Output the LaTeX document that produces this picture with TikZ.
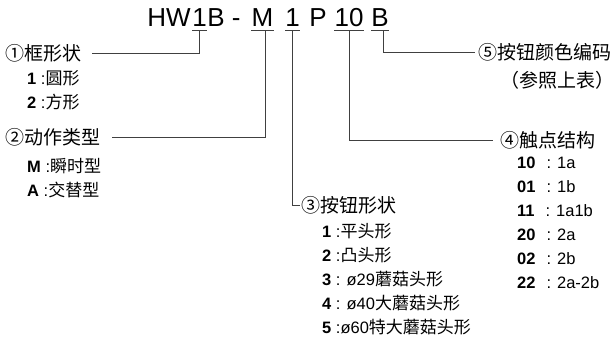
\documentclass[tikz,border=0pt]{standalone}
\usepackage{fontspec}
\setmainfont{Liberation Sans}
\newfontfamily\cjk{Noto Sans CJK SC}
\newcommand{\zh}[1]{{\cjk\fontsize{17}{17}\selectfont #1}}
\newcommand{\opt}[2]{\textbf{#1} :#2}

\begin{document}
\begin{tikzpicture}[x=1pt,y=-1pt,
    title/.style={font=\fontsize{26}{26}\selectfont, inner xsep=0pt, inner ysep=3pt, anchor=base},
    head/.style={font=\cjk\fontsize{19}{19}\selectfont, inner sep=0pt, anchor=west},
    item/.style={font=\fontsize{16.5}{16.5}\selectfont, inner sep=0pt, anchor=west},
    link/.style={draw=black!75, line width=0.8pt}]
  \useasboundingbox (0,0) rectangle (616,340);
  % model code
  \node[title] (hw)  at (169,27) {HW};
  \node[title] (t1)  at (199.5,27) {1};
  \node[title] (tb)  at (224,27) {B -};
  \node[title] (tm)  at (262.5,27) {M};
  \node[title] (t1b) at (292.5,27) {1};
  \node[title] (tp)  at (318,27) {P};
  \node[title] (t10) at (349,27) {10};
  \node[title] (tB)  at (380,27) {B};
  \foreach \n in {t1,tm,t1b,t10,tB}
    \draw[link] (\n.south west) -- (\n.south east);

  % headings
  \node[head] (frame)  at (5,53)    {①框形状};
  \node[head] (action) at (5,137)   {②动作类型};
  \node[head] (shape)  at (301,205) {③按钮形状};
  \node[head] (contact) at (500,140) {④触点结构};
  \node[head] (colour) at (478,52)  {⑤按钮颜色编码};
  \node[head, anchor=center] (note) at (557,80) {（参照上表）};

  % connectors
  \draw[link] (t1.south) |- ([xshift=11pt]frame.east);
  \draw[link] ([xshift=3pt]tm.south) |- ([xshift=12pt]action.east);
  \draw[link] (t1b.south) |- ([xshift=-1pt]shape.west);
  \draw[link] (t10.south) |- ([xshift=-7pt]contact.west);
  \draw[link] ([xshift=3pt]tB.south) |- ([xshift=-3pt]colour.west);

  % options
  \foreach \k/\v [count=\i] in {1/圆形,2/方形}
    \node[item] (frame\i) at (27,54+24*\i) {\opt{\k}{\zh{\v}}};
  \foreach \k/\v [count=\i] in {M/瞬时型,A/交替型}
    \node[item] (action\i) at (27,142+24*\i) {\opt{\k}{\zh{\v}}};
  \node[item] (shape1) at (322,231) {\opt{1}{\zh{平头形}}};
  \node[item] (shape2) at (322,255) {\opt{2}{\zh{凸头形}}};
  \node[item] (shape3) at (322,279) {\opt{3}{ ø29\zh{蘑菇头形}}};
  \node[item] (shape4) at (322,303) {\opt{4}{ ø40\zh{大蘑菇头形}}};
  \node[item] (shape5) at (322,327) {\opt{5}{ø60\zh{特大蘑菇头形}}};
  \foreach \k/\v [count=\i] in {10/1a,01/1b,11/1a1b,20/2a,02/2b,22/2a-2b}
    \node[item] (contact\i) at (517,139+24*\i) {\textbf{\k}\hspace{11pt}:\hspace{6pt}\v};
\end{tikzpicture}
\end{document}
